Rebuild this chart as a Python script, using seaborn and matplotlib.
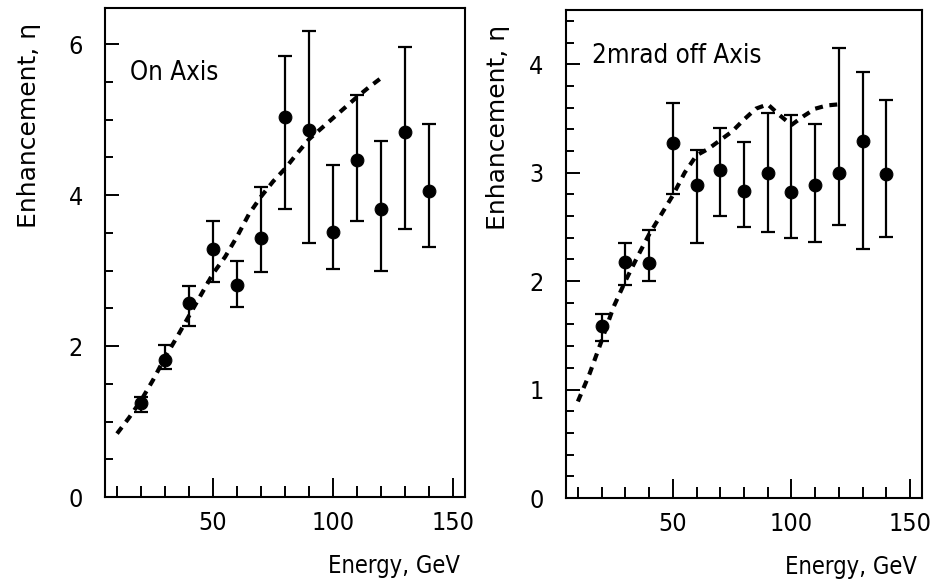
"""Enhancement vs energy, on axis and 2 mrad off axis."""

import matplotlib

matplotlib.use("Agg")
import matplotlib.pyplot as plt
from matplotlib.ticker import MultipleLocator
import pandas as pd
import seaborn as sns

# measured points (same energies for both panels)
energy = [20, 30, 40, 50, 60, 70, 80, 90, 100, 110, 120, 130, 140]

on_axis = [1.24, 1.81, 2.57, 3.29, 2.81, 3.43, 5.04, 4.86, 3.51, 4.47, 3.82, 4.84, 4.05]
on_axis_lo = [1.12, 1.69, 2.26, 2.85, 2.52, 2.98, 3.82, 3.36, 3.02, 3.66, 3.00, 3.55, 3.31]
on_axis_hi = [1.33, 2.01, 2.79, 3.66, 3.12, 4.11, 5.84, 6.18, 4.40, 5.32, 4.71, 5.96, 4.94]

off_axis = [1.59, 2.18, 2.17, 3.27, 2.89, 3.02, 2.83, 3.00, 2.82, 2.89, 3.00, 3.29, 2.99]
off_axis_lo = [1.45, 1.96, 2.00, 2.80, 2.35, 2.60, 2.50, 2.45, 2.40, 2.36, 2.52, 2.30, 2.41]
off_axis_hi = [1.70, 2.35, 2.47, 3.64, 3.21, 3.41, 3.28, 3.55, 3.53, 3.45, 4.15, 3.93, 3.67]

# theory curves (dashed)
theory_energy = [10, 15, 20, 25, 30, 35, 40, 45, 50, 55, 60, 65, 70, 75, 80,
                 85, 90, 95, 100, 105, 110, 115, 120]
theory_on = [0.84, 1.05, 1.28, 1.55, 1.85, 2.12, 2.40, 2.68, 2.96, 3.18, 3.45, 3.75,
             3.98, 4.18, 4.35, 4.55, 4.74, 4.88, 5.02, 5.16, 5.30, 5.43, 5.55]
theory_off = [0.89, 1.15, 1.45, 1.76, 2.00, 2.22, 2.43, 2.61, 2.79, 3.00, 3.16, 3.22,
              3.30, 3.38, 3.49, 3.59, 3.63, 3.53, 3.44, 3.52, 3.59, 3.62, 3.63]

panel_titles = ["On Axis", "2mrad off Axis"]

sns.set_theme(style="ticks")
plt.rcParams.update(
    {
        "font.family": ["DejaVu Sans"],
        "font.stretch": "condensed",
        "font.size": 18,
        "text.color": "black",
        "xtick.color": "black",
        "ytick.color": "black",
        "axes.labelcolor": "black",
    }
)


def draw_panel(axis, values, lo, hi, theory, title, ymax, ymajor, yminor, title_xy, label_xy):
    points = pd.DataFrame({"energy": energy, "eta": values})
    curve = pd.DataFrame({"energy": theory_energy, "eta": theory})

    sns.lineplot(data=curve, x="energy", y="eta", color="black", linewidth=3.0,
                 ax=axis, zorder=2)
    axis.lines[-1].set_dashes((1.9, 1.6))
    yerr = [[v - l for v, l in zip(values, lo)], [h - v for v, h in zip(values, hi)]]
    axis.errorbar(energy, values, yerr=yerr, fmt="none", ecolor="black",
                  elinewidth=1.6, capsize=5, capthick=1.6, zorder=3)
    sns.scatterplot(data=points, x="energy", y="eta", color="black", s=85,
                    marker="o", edgecolor="black", ax=axis, zorder=4)

    axis.set_xlim(5, 155)
    axis.set_ylim(0, ymax)
    axis.xaxis.set_major_locator(MultipleLocator(50))
    axis.xaxis.set_minor_locator(MultipleLocator(10))
    axis.yaxis.set_major_locator(MultipleLocator(ymajor))
    axis.yaxis.set_minor_locator(MultipleLocator(yminor))
    axis.tick_params(which="both", direction="in", top=False, right=False,
                     color="black", width=1.4, labelsize=18)
    axis.tick_params(axis="x", which="major", length=14, pad=10)
    axis.tick_params(axis="x", which="minor", length=8)
    axis.tick_params(axis="y", which="major", length=10, pad=16)
    axis.tick_params(axis="y", which="minor", length=5.5)
    for spine in axis.spines.values():
        spine.set_visible(True)
        spine.set_color("black")
        spine.set_linewidth(1.5)

    axis.text(title_xy[0], title_xy[1], title, transform=axis.transAxes,
              fontsize=18.5, va="center", ha="left")
    axis.set_ylabel("Enhancement, η", fontsize=18, fontstretch="normal")
    axis.yaxis.set_label_coords(label_xy, 0.76)
    axis.yaxis.label.set_va("center")
    axis.set_xlabel("Energy, GeV", fontsize=17, loc="right")
    axis.xaxis.set_label_coords(0.985, -0.116)


figure = plt.figure(figsize=(9.32, 5.87), dpi=100)
left = figure.add_axes([0.1127, 0.1533, 0.3863, 0.8333])
right = figure.add_axes([0.6073, 0.1516, 0.3820, 0.8314])

draw_panel(left, on_axis, on_axis_lo, on_axis_hi, theory_on, panel_titles[0],
           6.48, 2, 0.5, (0.07, 0.867), -0.21)
draw_panel(right, off_axis, off_axis_lo, off_axis_hi, theory_off, panel_titles[1],
           4.5, 1, 0.2, (0.073, 0.906), -0.19)

figure.savefig("out.png", dpi=100, facecolor="white")
